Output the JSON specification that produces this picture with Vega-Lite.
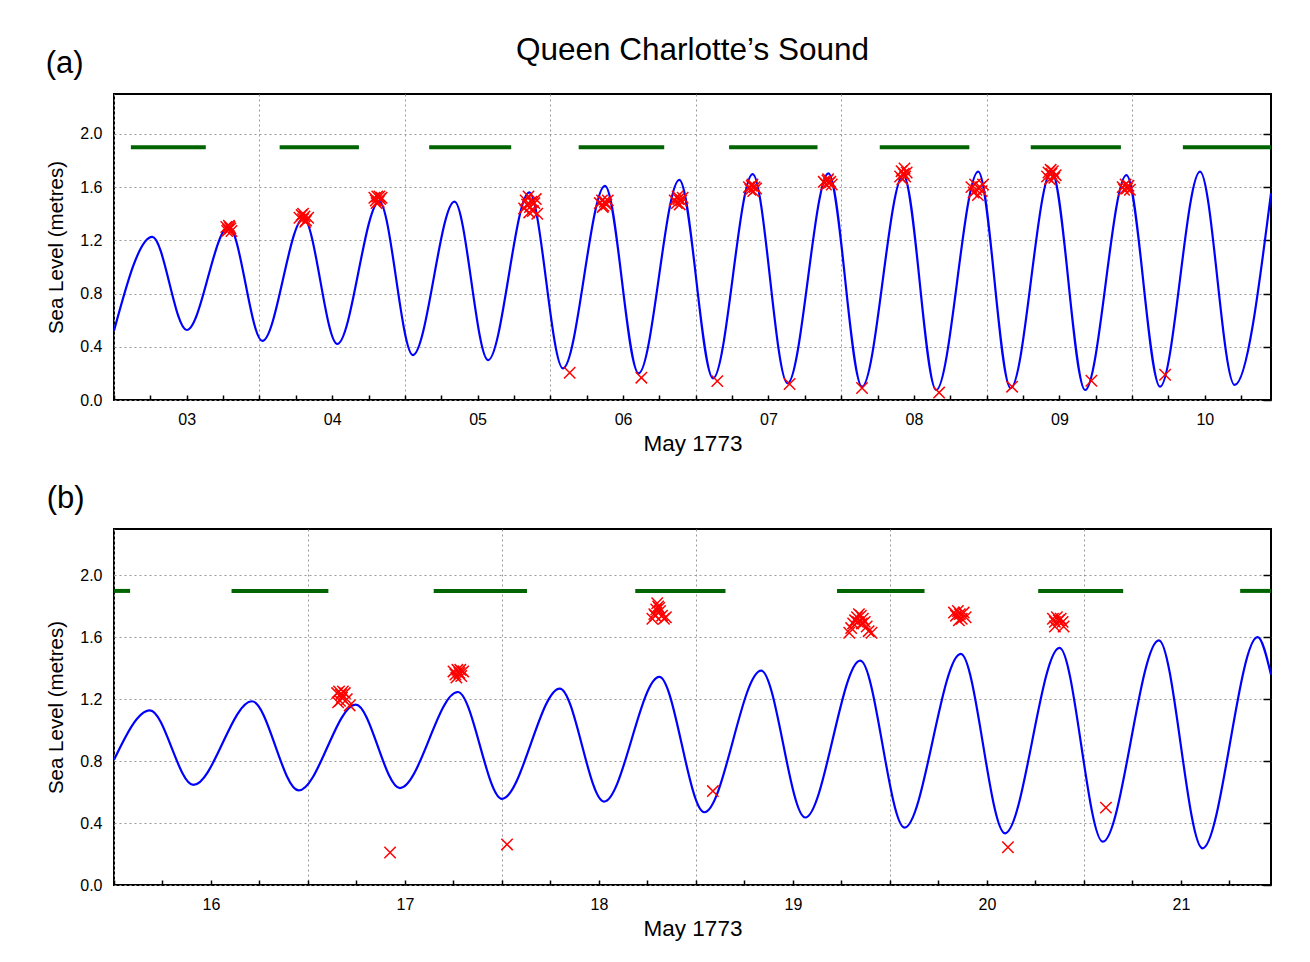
{
  "$schema": "https://vega.github.io/schema/vega-lite/v6.json",
  "background": "white",
  "autosize": {"type": "pad"},
  "padding": {"left": 45, "top": 33, "right": 20, "bottom": 5},
  "config": {
    "font": "Liberation Sans",
    "view": {"stroke": "black", "strokeWidth": 2},
    "axis": {
      "labelFont": "Liberation Sans",
      "labelFontSize": 16,
      "labelColor": "black",
      "titleFont": "Liberation Sans",
      "titleFontWeight": "normal",
      "titleColor": "black",
      "gridColor": "#999999",
      "gridDash": [2, 3],
      "gridWidth": 1,
      "domain": false,
      "tickColor": "black",
      "tickWidth": 1.5
    },
    "title": {"font": "Liberation Sans", "fontWeight": "normal", "color": "black"}
  },
  "title": {"text": "(a)", "anchor": "start", "frame": "bounds", "fontSize": 31, "dy": 50},
  "spacing": 26,
  "datasets": {
    "lineA": [
      {"t": 3.0, "v": 0.52}, {"t": 3.263, "v": 1.226}, {"t": 3.5, "v": 0.526}, {"t": 3.789, "v": 1.303},
      {"t": 4.02, "v": 0.444}, {"t": 4.303, "v": 1.366}, {"t": 4.535, "v": 0.421}, {"t": 4.824, "v": 1.491},
      {"t": 5.055, "v": 0.338}, {"t": 5.341, "v": 1.491}, {"t": 5.572, "v": 0.30}, {"t": 5.855, "v": 1.561},
      {"t": 6.087, "v": 0.238}, {"t": 6.376, "v": 1.609}, {"t": 6.607, "v": 0.20}, {"t": 6.887, "v": 1.654},
      {"t": 7.119, "v": 0.163}, {"t": 7.391, "v": 1.697}, {"t": 7.631, "v": 0.125}, {"t": 7.912, "v": 1.704},
      {"t": 8.143, "v": 0.10}, {"t": 8.427, "v": 1.69}, {"t": 8.653, "v": 0.075}, {"t": 8.942, "v": 1.717},
      {"t": 9.165, "v": 0.088}, {"t": 9.446, "v": 1.72}, {"t": 9.677, "v": 0.075}, {"t": 9.961, "v": 1.69},
      {"t": 10.192, "v": 0.10}, {"t": 10.467, "v": 1.717}, {"t": 10.705, "v": 0.113}, {"t": 10.955, "v": 1.554}
    ],
    "obsA": [
      {"t": 3.772, "v": 1.30}, {"t": 3.785, "v": 1.28}, {"t": 3.79, "v": 1.31}, {"t": 3.80, "v": 1.29}, {"t": 3.808, "v": 1.27}, {"t": 3.778, "v": 1.27}, {"t": 3.795, "v": 1.30},
      {"t": 4.275, "v": 1.37}, {"t": 4.29, "v": 1.39}, {"t": 4.30, "v": 1.36}, {"t": 4.31, "v": 1.38}, {"t": 4.32, "v": 1.35}, {"t": 4.335, "v": 1.37}, {"t": 4.30, "v": 1.40}, {"t": 4.315, "v": 1.34},
      {"t": 4.79, "v": 1.52}, {"t": 4.80, "v": 1.50}, {"t": 4.81, "v": 1.53}, {"t": 4.82, "v": 1.49}, {"t": 4.83, "v": 1.51}, {"t": 4.84, "v": 1.52}, {"t": 4.805, "v": 1.48}, {"t": 4.825, "v": 1.53},
      {"t": 5.82, "v": 1.44}, {"t": 5.83, "v": 1.50}, {"t": 5.84, "v": 1.47}, {"t": 5.85, "v": 1.53}, {"t": 5.86, "v": 1.45}, {"t": 5.87, "v": 1.49}, {"t": 5.88, "v": 1.42}, {"t": 5.89, "v": 1.48}, {"t": 5.90, "v": 1.51}, {"t": 5.91, "v": 1.40}, {"t": 5.855, "v": 1.41},
      {"t": 6.34, "v": 1.48}, {"t": 6.355, "v": 1.50}, {"t": 6.365, "v": 1.46}, {"t": 6.375, "v": 1.49}, {"t": 6.385, "v": 1.47}, {"t": 6.395, "v": 1.50}, {"t": 6.36, "v": 1.45},
      {"t": 6.855, "v": 1.50}, {"t": 6.87, "v": 1.48}, {"t": 6.88, "v": 1.51}, {"t": 6.89, "v": 1.47}, {"t": 6.90, "v": 1.50}, {"t": 6.91, "v": 1.52}, {"t": 6.875, "v": 1.53},
      {"t": 7.365, "v": 1.60}, {"t": 7.375, "v": 1.58}, {"t": 7.385, "v": 1.61}, {"t": 7.395, "v": 1.57}, {"t": 7.405, "v": 1.60}, {"t": 7.415, "v": 1.59}, {"t": 7.39, "v": 1.62},
      {"t": 7.88, "v": 1.64}, {"t": 7.895, "v": 1.62}, {"t": 7.905, "v": 1.65}, {"t": 7.915, "v": 1.63}, {"t": 7.925, "v": 1.64}, {"t": 7.935, "v": 1.62}, {"t": 7.91, "v": 1.66},
      {"t": 8.405, "v": 1.68}, {"t": 8.415, "v": 1.72}, {"t": 8.42, "v": 1.66}, {"t": 8.43, "v": 1.70}, {"t": 8.435, "v": 1.74}, {"t": 8.44, "v": 1.68}, {"t": 8.45, "v": 1.71},
      {"t": 8.895, "v": 1.60}, {"t": 8.91, "v": 1.56}, {"t": 8.92, "v": 1.62}, {"t": 8.93, "v": 1.58}, {"t": 8.94, "v": 1.54}, {"t": 8.955, "v": 1.60}, {"t": 8.965, "v": 1.57}, {"t": 8.975, "v": 1.62},
      {"t": 9.415, "v": 1.68}, {"t": 9.425, "v": 1.71}, {"t": 9.435, "v": 1.66}, {"t": 9.445, "v": 1.70}, {"t": 9.455, "v": 1.72}, {"t": 9.465, "v": 1.67}, {"t": 9.475, "v": 1.69}, {"t": 9.44, "v": 1.73},
      {"t": 9.935, "v": 1.60}, {"t": 9.945, "v": 1.58}, {"t": 9.955, "v": 1.62}, {"t": 9.965, "v": 1.59}, {"t": 9.975, "v": 1.61}, {"t": 9.985, "v": 1.58},
      {"t": 6.133, "v": 0.205}, {"t": 6.626, "v": 0.168}, {"t": 7.148, "v": 0.142}, {"t": 7.645, "v": 0.12}, {"t": 8.143, "v": 0.09},
      {"t": 8.673, "v": 0.056}, {"t": 9.175, "v": 0.10}, {"t": 9.72, "v": 0.145}, {"t": 10.227, "v": 0.19}
    ],
    "dayA": [
      {"t": 3.116, "t2": 3.631, "v": 1.9}, {"t": 4.139, "t2": 4.684, "v": 1.9}, {"t": 5.167, "t2": 5.731, "v": 1.9},
      {"t": 6.195, "t2": 6.783, "v": 1.9}, {"t": 7.229, "t2": 7.837, "v": 1.9}, {"t": 8.265, "t2": 8.881, "v": 1.9},
      {"t": 9.303, "t2": 9.923, "v": 1.9}, {"t": 10.349, "t2": 10.955, "v": 1.9}
    ],
    "lineB": [
      {"t": 16.0, "v": 0.809}, {"t": 16.185, "v": 1.128}, {"t": 16.409, "v": 0.647}, {"t": 16.711, "v": 1.187},
      {"t": 16.952, "v": 0.611}, {"t": 17.246, "v": 1.165}, {"t": 17.474, "v": 0.626}, {"t": 17.772, "v": 1.247},
      {"t": 18.0, "v": 0.557}, {"t": 18.298, "v": 1.269}, {"t": 18.526, "v": 0.539}, {"t": 18.811, "v": 1.344},
      {"t": 19.043, "v": 0.470}, {"t": 19.336, "v": 1.385}, {"t": 19.563, "v": 0.436}, {"t": 19.847, "v": 1.450},
      {"t": 20.075, "v": 0.371}, {"t": 20.365, "v": 1.493}, {"t": 20.593, "v": 0.334}, {"t": 20.874, "v": 1.532},
      {"t": 21.097, "v": 0.280}, {"t": 21.386, "v": 1.581}, {"t": 21.611, "v": 0.237}, {"t": 21.895, "v": 1.601},
      {"t": 21.964, "v": 1.359}
    ],
    "obsB": [
      {"t": 17.15, "v": 1.24}, {"t": 17.16, "v": 1.25}, {"t": 17.17, "v": 1.23}, {"t": 17.18, "v": 1.25}, {"t": 17.19, "v": 1.24}, {"t": 17.155, "v": 1.18}, {"t": 17.175, "v": 1.21}, {"t": 17.20, "v": 1.20}, {"t": 17.215, "v": 1.16}, {"t": 17.165, "v": 1.19},
      {"t": 17.75, "v": 1.38}, {"t": 17.76, "v": 1.36}, {"t": 17.77, "v": 1.39}, {"t": 17.78, "v": 1.37}, {"t": 17.79, "v": 1.35}, {"t": 17.80, "v": 1.38}, {"t": 17.765, "v": 1.34}, {"t": 17.785, "v": 1.39},
      {"t": 18.775, "v": 1.72}, {"t": 18.785, "v": 1.75}, {"t": 18.795, "v": 1.78}, {"t": 18.805, "v": 1.80}, {"t": 18.815, "v": 1.77}, {"t": 18.825, "v": 1.74}, {"t": 18.835, "v": 1.72}, {"t": 18.80, "v": 1.82}, {"t": 18.81, "v": 1.79}, {"t": 18.845, "v": 1.73}, {"t": 18.79, "v": 1.74},
      {"t": 19.79, "v": 1.63}, {"t": 19.80, "v": 1.66}, {"t": 19.81, "v": 1.69}, {"t": 19.82, "v": 1.71}, {"t": 19.83, "v": 1.73}, {"t": 19.84, "v": 1.75}, {"t": 19.85, "v": 1.74}, {"t": 19.86, "v": 1.72}, {"t": 19.87, "v": 1.70}, {"t": 19.88, "v": 1.67}, {"t": 19.89, "v": 1.64}, {"t": 19.905, "v": 1.63}, {"t": 19.835, "v": 1.70}, {"t": 19.855, "v": 1.69},
      {"t": 20.33, "v": 1.76}, {"t": 20.34, "v": 1.74}, {"t": 20.35, "v": 1.77}, {"t": 20.36, "v": 1.75}, {"t": 20.37, "v": 1.72}, {"t": 20.38, "v": 1.76}, {"t": 20.39, "v": 1.73}, {"t": 20.355, "v": 1.71},
      {"t": 20.84, "v": 1.72}, {"t": 20.85, "v": 1.70}, {"t": 20.86, "v": 1.73}, {"t": 20.87, "v": 1.71}, {"t": 20.88, "v": 1.72}, {"t": 20.89, "v": 1.70}, {"t": 20.85, "v": 1.67}, {"t": 20.895, "v": 1.67},
      {"t": 17.423, "v": 0.21}, {"t": 18.026, "v": 0.262}, {"t": 19.087, "v": 0.607}, {"t": 20.608, "v": 0.244}, {"t": 21.113, "v": 0.50}
    ],
    "dayB": [
      {"t": 16.0, "t2": 16.083, "v": 1.9}, {"t": 16.606, "t2": 17.105, "v": 1.9}, {"t": 17.648, "t2": 18.129, "v": 1.9},
      {"t": 18.687, "t2": 19.152, "v": 1.9}, {"t": 19.727, "t2": 20.178, "v": 1.9}, {"t": 20.764, "t2": 21.202, "v": 1.9},
      {"t": 21.805, "t2": 21.964, "v": 1.9}
    ]
  },
  "vconcat": [
    {
      "width": 1157,
      "height": 306,
      "title": {"text": "Queen Charlotte’s Sound", "anchor": "middle", "frame": "group", "fontSize": 31.5, "offset": 28},
      "encoding": {
        "x": {
          "field": "t", "type": "quantitative",
          "scale": {"domain": [3, 10.955], "nice": false, "zero": false},
          "axis": {
            "values": [3, 3.25, 3.5, 3.75, 4, 4.25, 4.5, 4.75, 5, 5.25, 5.5, 5.75, 6, 6.25, 6.5, 6.75, 7, 7.25, 7.5, 7.75, 8, 8.25, 8.5, 8.75, 9, 9.25, 9.5, 9.75, 10, 10.25, 10.5, 10.75],
            "labelExpr": "datum.value % 1 === 0.5 ? (datum.value < 10 ? '0' : '') + floor(datum.value) : ''",
            "labelOverlap": false, "labelFlush": false,
            "tickSize": -5, "labelPadding": 16,
            "grid": true,
            "gridOpacity": {"condition": {"test": "datum.value % 1 === 0", "value": 1}, "value": 0},
            "title": "May 1773", "titleFontSize": 22.5, "titlePadding": 5
          }
        },
        "y": {"field": "v", "type": "quantitative", "scale": {"domain": [0, 2.3], "nice": false}}
      },
      "resolve": {"axis": {"y": "independent"}},
      "layer": [
        {
          "data": {"name": "dayA"},
          "mark": {"type": "rule", "stroke": "#006400", "strokeWidth": 4},
          "encoding": {
            "x2": {"field": "t2"},
            "y": {"field": "v", "type": "quantitative", "axis": {"orient": "right", "values": [0, 0.4, 0.8, 1.2, 1.6, 2.0], "labels": false, "ticks": true, "tickSize": -8, "grid": false, "title": null}}
          }
        },
        {
          "data": {"name": "lineA"},
          "mark": {"type": "line", "interpolate": "monotone", "stroke": "#0000ff", "strokeWidth": 2.2},
          "encoding": {
            "y": {"field": "v", "type": "quantitative", "axis": {"orient": "left", "values": [0, 0.4, 0.8, 1.2, 1.6, 2.0], "format": ".1f", "ticks": false, "labelPadding": 12, "grid": true, "title": "Sea Level (metres)", "titleFontSize": 20.5, "titlePadding": 13}}
          }
        },
        {
          "data": {"name": "obsA"},
          "mark": {"type": "point", "shape": "M-1,-1L1,1M-1,1L1,-1", "filled": false, "stroke": "#ff0000", "strokeWidth": 1.5, "size": 130, "opacity": 1},
          "encoding": {
            "y": {"field": "v", "type": "quantitative", "axis": null}
          }
        }
      ]
    },
    {
      "width": 1157,
      "height": 356,
      "title": {"text": "(b)", "anchor": "start", "frame": "bounds", "fontSize": 31, "offset": 14},
      "encoding": {
        "x": {
          "field": "t", "type": "quantitative",
          "scale": {"domain": [16, 21.964], "nice": false, "zero": false},
          "axis": {
            "values": [16, 16.25, 16.5, 16.75, 17, 17.25, 17.5, 17.75, 18, 18.25, 18.5, 18.75, 19, 19.25, 19.5, 19.75, 20, 20.25, 20.5, 20.75, 21, 21.25, 21.5, 21.75],
            "labelExpr": "datum.value % 1 === 0.5 ? '' + floor(datum.value) : ''",
            "labelOverlap": false, "labelFlush": false,
            "tickSize": -5, "labelPadding": 16,
            "grid": true,
            "gridOpacity": {"condition": {"test": "datum.value % 1 === 0", "value": 1}, "value": 0},
            "title": "May 1773", "titleFontSize": 22.5, "titlePadding": 5
          }
        },
        "y": {"field": "v", "type": "quantitative", "scale": {"domain": [0, 2.3], "nice": false}}
      },
      "resolve": {"axis": {"y": "independent"}},
      "layer": [
        {
          "data": {"name": "dayB"},
          "mark": {"type": "rule", "stroke": "#006400", "strokeWidth": 4},
          "encoding": {
            "x2": {"field": "t2"},
            "y": {"field": "v", "type": "quantitative", "axis": {"orient": "right", "values": [0, 0.4, 0.8, 1.2, 1.6, 2.0], "labels": false, "ticks": true, "tickSize": -8, "grid": false, "title": null}}
          }
        },
        {
          "data": {"name": "lineB"},
          "mark": {"type": "line", "interpolate": "monotone", "stroke": "#0000ff", "strokeWidth": 2.2},
          "encoding": {
            "y": {"field": "v", "type": "quantitative", "axis": {"orient": "left", "values": [0, 0.4, 0.8, 1.2, 1.6, 2.0], "format": ".1f", "ticks": false, "labelPadding": 12, "grid": true, "title": "Sea Level (metres)", "titleFontSize": 20.5, "titlePadding": 13}}
          }
        },
        {
          "data": {"name": "obsB"},
          "mark": {"type": "point", "shape": "M-1,-1L1,1M-1,1L1,-1", "filled": false, "stroke": "#ff0000", "strokeWidth": 1.5, "size": 130, "opacity": 1},
          "encoding": {
            "y": {"field": "v", "type": "quantitative", "axis": null}
          }
        }
      ]
    }
  ]
}
